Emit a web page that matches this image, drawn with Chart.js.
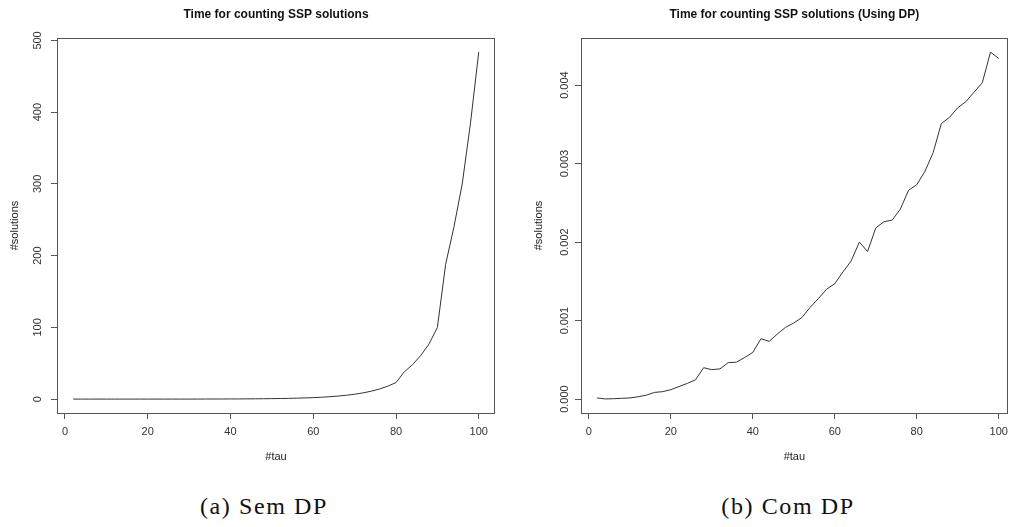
<!DOCTYPE html>
<html>
<head>
<meta charset="utf-8">
<script src="https://cdn.jsdelivr.net/npm/chart.js@4"></script>
<style>
    html, body { margin: 0; padding: 0; background: #fff; }
    body { width: 1014px; height: 527px; position: relative; overflow: hidden; }
    canvas { position: absolute; top: 0; }
    #chartSemDP { left: 0; }
    #chartComDP { left: 507px; }
    .legenda {
        position: absolute;
        top: 493px;
        font-family: "Liberation Serif", "Times New Roman", serif;
        font-size: 24px;
        letter-spacing: 1.6px;
        color: #111;
        transform: translateX(-50%);
        white-space: nowrap;
    }
</style>
</head>
<body>
<canvas id="chartSemDP" width="507" height="475"></canvas>
<canvas id="chartComDP" width="507" height="475"></canvas>
<div class="legenda" style="left:264px">(a) Sem DP</div>
<div class="legenda" style="left:788px">(b) Com DP</div>

<script>
// --------------------------------------------------------------------------
// Dados (tau = 2, 4, ..., 100)
// --------------------------------------------------------------------------
const tau = [
    2, 4, 6, 8, 10, 12, 14, 16, 18, 20,
    22, 24, 26, 28, 30, 32, 34, 36, 38, 40,
    42, 44, 46, 48, 50, 52, 54, 56, 58, 60,
    62, 64, 66, 68, 70, 72, 74, 76, 78, 80,
    82, 84, 86, 88, 90, 92, 94, 96, 98, 100
];

// (a) sem programação dinâmica
const tempoSemDP = [
    0, 0, 0, 0, 0, 0, 0, 0, 0, 0,
    0, 0, 0, 0, 0, 0, 0.1, 0.1, 0.1, 0.2,
    0.2, 0.3, 0.4, 0.5, 0.6, 0.8, 1.0, 1.3, 1.6, 2.0,
    2.6, 3.3, 4.2, 5.3, 6.8, 8.6, 11, 14, 18, 23,
    38, 48, 61, 77, 100, 188, 240, 300, 385, 484
];

// (b) com programação dinâmica
const tempoComDP = [
    0.000015, 0.000002, 0.000005, 0.000010, 0.000015, 0.000030, 0.000050, 0.000085, 0.000095, 0.000120,
    0.000160, 0.000200, 0.000245, 0.000400, 0.000375, 0.000385, 0.000465, 0.000470, 0.000530, 0.000595,
    0.000770, 0.000735, 0.000830, 0.000915, 0.000970, 0.001040, 0.001170, 0.001280, 0.001400, 0.001470,
    0.001620, 0.001760, 0.002000, 0.001880, 0.002180, 0.002260, 0.002280, 0.002420, 0.002660, 0.002730,
    0.002900, 0.003140, 0.003510, 0.003590, 0.003710, 0.003790, 0.003910, 0.004030, 0.004420, 0.004340
];

// Marcas dos eixos
const ticksX = [0, 20, 40, 60, 80, 100];
const ticksSemDP = [0, 100, 200, 300, 400, 500];
const ticksComDP = [0, 0.001, 0.002, 0.003, 0.004];

const titulos = ['Time for counting SSP solutions', 'Time for counting SSP solutions (Using DP)'];

// --------------------------------------------------------------------------
// Moldura estilo R (caixa em volta da área do gráfico)
// --------------------------------------------------------------------------
const molduraPlugin = {
    id: 'moldura',
    afterDraw(chart) {
        const a = chart.chartArea;
        const ctx = chart.ctx;
        ctx.save();
        ctx.strokeStyle = '#555';
        ctx.lineWidth = 1;
        const l = Math.round(a.left) + 0.5, t = Math.round(a.top) + 0.5;
        const r = Math.round(a.right) - 0.5, b = Math.round(a.bottom) + 0.5;
        ctx.strokeRect(l, t, r - l, b - t);
        ctx.restore();
    }
};

const fonte = { family: '"Liberation Sans", Arial, sans-serif', size: 11 };

/**
 * Monta um gráfico de linha no estilo do plot() do R.
 */
function criarGrafico(id, cfg) {
    const ctx = document.getElementById(id).getContext('2d');
    return new Chart(ctx, {
        type: 'line',
        data: {
            datasets: [{
                data: tau.map((t, i) => ({ x: t, y: cfg.valores[i] })),
                borderColor: '#333',
                borderWidth: 1,
                pointRadius: 0,
                tension: 0,
                fill: false
            }]
        },
        options: {
            responsive: false,
            animation: false,
            devicePixelRatio: 1,
            layout: { padding: { left: 0, right: cfg.padDireita, top: 0, bottom: 0 } },
            plugins: {
                legend: { display: false },
                tooltip: { enabled: false },
                title: {
                    display: true,
                    text: cfg.titulo,
                    fullSize: false,
                    color: '#111',
                    font: { family: fonte.family, size: 12, weight: 'bold' },
                    padding: { top: 7.6, bottom: 16 }
                }
            },
            scales: {
                x: {
                    type: 'linear',
                    min: cfg.xMin,
                    max: cfg.xMax,
                    afterBuildTicks: s => { s.ticks = ticksX.map(v => ({ value: v })); },
                    afterFit: s => { s.height = 62; },
                    grid: { drawOnChartArea: false, drawTicks: true, tickLength: 6, color: '#555' },
                    border: { display: false },
                    ticks: { font: fonte, color: '#333', padding: 6, maxRotation: 0, autoSkip: false },
                    title: { display: true, text: '#tau', font: fonte, color: '#222', padding: { top: 0, bottom: 11.4 } }
                },
                y: {
                    type: 'linear',
                    min: cfg.yMin,
                    max: cfg.yMax,
                    afterBuildTicks: s => { s.ticks = cfg.ticksY.map(v => ({ value: v })); },
                    afterFit: s => { s.width = cfg.larguraY; },
                    grid: { drawOnChartArea: false, drawTicks: true, tickLength: 6, color: '#555' },
                    border: { display: false },
                    ticks: {
                        font: fonte,
                        color: '#333',
                        padding: cfg.padTicksY,
                        minRotation: 90,
                        maxRotation: 90,
                        crossAlign: 'center',
                        autoSkip: false,
                        callback: cfg.formato
                    },
                    title: { display: true, text: '#solutions', font: fonte, color: '#222', padding: { top: cfg.padTituloY, bottom: 0 } }
                }
            }
        },
        plugins: [molduraPlugin]
    });
}

criarGrafico('chartSemDP', {
    titulo: titulos[0],
    valores: tempoSemDP,
    ticksY: ticksSemDP,
    xMin: -1.92, xMax: 103.92,
    yMin: -19.4, yMax: 503.4,
    larguraY: 57,
    padDireita: 12,
    padTicksY: 4.3,
    padTituloY: 8.4,
    formato: v => String(v)
});

criarGrafico('chartComDP', {
    titulo: titulos[1],
    valores: tempoComDP,
    ticksY: ticksComDP,
    xMin: -1.93, xMax: 102.2,
    yMin: -0.000177, yMax: 0.0046,
    larguraY: 74,
    padDireita: 1,
    padTicksY: -3.7,
    padTituloY: 25.4,
    formato: v => v.toFixed(3)
});
</script>
</body>
</html>
